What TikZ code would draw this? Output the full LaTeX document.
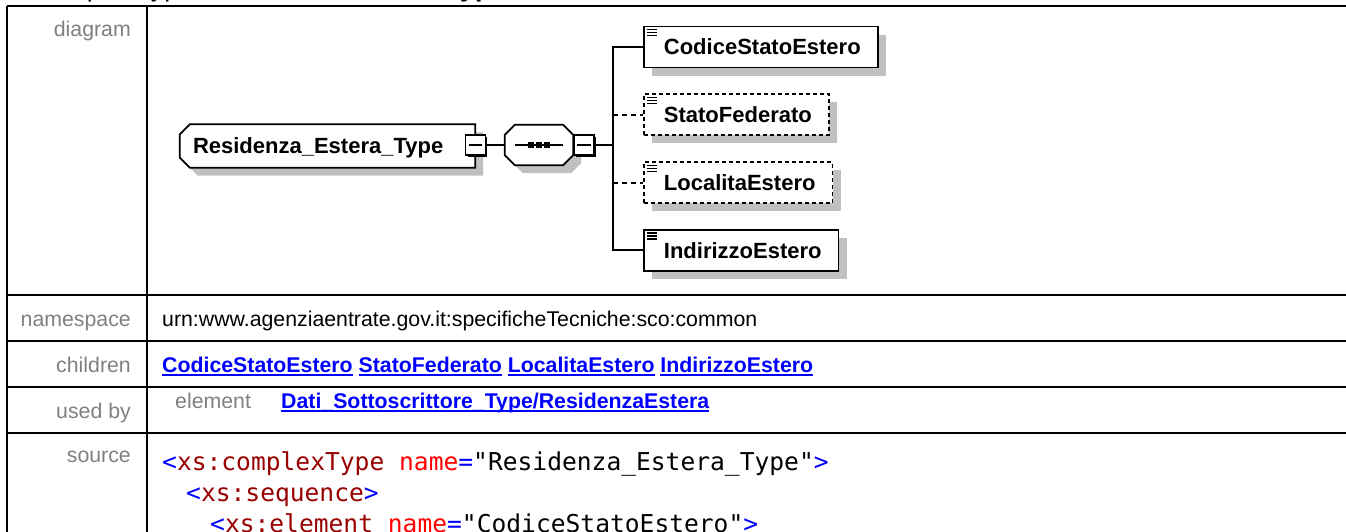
\documentclass[tikz,border=0pt]{standalone}
\usepackage{fontspec}
\setmainfont{Liberation Sans}
\setmonofont{DejaVu Sans Mono}
\usepackage{tikz}
\usetikzlibrary{positioning,shadows,backgrounds}
\definecolor{lblgray}{RGB}{128,128,128}
\definecolor{shadowgray}{RGB}{192,192,192}
\definecolor{linkblue}{RGB}{0,0,255}
\definecolor{tagred}{RGB}{153,0,0}
\definecolor{attred}{RGB}{255,0,0}
\newcommand\tabfont{\fontsize{21.3}{25}\selectfont}
\newcommand\diafont{\fontsize{22}{26}\selectfont\bfseries}
\newcommand\srcfont{\fontsize{24.6}{31}\selectfont\ttfamily}
\newcommand\lnkword[1]{\setbox0\hbox{#1}\rlap{\rule[-3.8pt]{\wd0}{1.6pt}}\box0\relax}
\newcommand\xsym[1]{\textcolor{linkblue}{#1}}
\newcommand\xtag[1]{\textcolor{tagred}{#1}}
\newcommand\xatt[1]{\textcolor{attred}{#1}}
\tikzset{
  rule/.style={line width=2pt},
  lbl/.style={anchor=base east,text=lblgray,font=\tabfont,inner sep=0pt},
  cell/.style={anchor=base west,font=\tabfont,inner sep=0pt},
  lnk/.style={cell,text=linkblue,font=\tabfont\bfseries},
  srcline/.style={anchor=base west,font=\srcfont,inner sep=0pt},
  shd/.style={drop shadow={shadow xshift=8pt,shadow yshift=-8pt,opacity=1,fill=shadowgray}},
  outline/.style={line width=1.8pt,fill=white,shd},
  rootbox/.style={font=\diafont,minimum width=295pt,minimum height=43pt,text width=269pt,
                  align=left,inner xsep=0pt,text height=15.8pt,text depth=0pt},
  seqbox/.style={minimum width=68pt,minimum height=40pt,inner sep=0pt},
  elem/.style={draw,line width=1.8pt,fill=white,shd,anchor=west,font=\diafont,
               minimum height=41pt,text height=15.8pt,text depth=0pt,inner xsep=17pt},
  optelem/.style={elem,dash pattern=on 4pt off 3pt},
  minbox/.style={draw,line width=1.4pt,fill=white,minimum size=20pt,inner sep=0pt},
  conn/.style={line width=2pt},
  optconn/.style={conn,dash pattern=on 5pt off 4pt},
}
\begin{document}
\begin{tikzpicture}[x=1pt,y=-1pt]
\useasboundingbox (0,0) rectangle (1346,531);

% heading, cut by the page top
\node[anchor=base west,inner sep=0pt,font=\fontsize{26.8}{30}\selectfont] (title) at (36,-3.5)
  {complexType \textbf{Residenza\_Estera\_Type}};

% table
\draw[rule] (7,6) -- (1350,6);
\draw[rule] (7,6) -- (7,540);
\draw[rule] (147,6) -- (147,540);
\foreach \y in {295,341,387,433}
  \draw[rule] (7,\y) -- (1350,\y);

\node[lbl] (ldiag) at (131,36)  {diagram};
\node[lbl] (lns)   at (131,326) {namespace};
\node[lbl] (lch)   at (131,372) {children};
\node[lbl] (luse)  at (131,418) {used by};
\node[lbl] (lsrc)  at (131,462) {source};

\node[cell] (ns) at (162,326) {urn:www.agenziaentrate.gov.it:specificheTecniche:sco:common};
\node[lnk] (ch) at (162,372)
  {\lnkword{CodiceStatoEstero} \lnkword{StatoFederato} \lnkword{LocalitaEstero} \lnkword{IndirizzoEstero}};
\node[cell,text=lblgray] (uel) at (175,408) {element};
\node[lnk] (uby) at (281,408) {\lnkword{Dati\_Sottoscrittore\_Type/ResidenzaEstera}};

\node[srcline] (src1) at (162,470)
  {\xsym{<}\xtag{xs:complexType} \xatt{name}\xsym{=}"Residenza\_Estera\_Type"\xsym{>}};
\node[srcline] (src2) at (186,501) {\xsym{<}\xtag{xs:sequence}\xsym{>}};
\node[srcline] (src3) at (210,532)
  {\xsym{<}\xtag{xs:element} \xatt{name}\xsym{=}"CodiceStatoEstero"\xsym{>}};

% diagram
\node[rootbox] (root) at (327.5,146) {Residenza\_Estera\_Type};
\node[seqbox] (seq) at (539,145) {};
\begin{scope}[on background layer]
  \draw[outline] ([xshift=10pt]root.north west) -- (root.north east) -- (root.south east)
    -- ([xshift=10pt]root.south west) -- ([yshift=10pt]root.south west)
    -- ([yshift=-10pt]root.north west) -- cycle;
  \draw[outline] ([xshift=10pt]seq.north west) -- ([xshift=-10pt]seq.north east)
    -- ([yshift=-10pt]seq.north east) -- ([yshift=10pt]seq.south east)
    -- ([xshift=-10pt]seq.south east) -- ([xshift=10pt]seq.south west)
    -- ([yshift=10pt]seq.south west) -- ([yshift=-10pt]seq.north west) -- cycle;
\end{scope}
\node[minbox] (rmin) at (root.east |- 0,145) {};
\node[minbox,right=0pt of seq] (smin) {};
\draw[conn] ([xshift=-24pt]seq.center) -- ([xshift=24pt]seq.center);
\foreach \dx in {-8,0,8}
  \fill ([xshift=\dx pt]seq.center) +(-2.8pt,-2.8pt) rectangle +(2.8pt,2.8pt);
\foreach \m in {rmin,smin}{
  \draw[line width=2.6pt] ([yshift=-3pt]\m.north east) -- (\m.south east) -- ([xshift=3pt]\m.south west);
  \draw[line width=1.4pt] ([xshift=4pt]\m.west) -- ([xshift=-4pt]\m.east);
}

\node[elem] (cse) at (643,47) {\hspace*{3pt}CodiceStatoEstero};
\node[optelem,below=25pt of cse.south west,anchor=north west] (sf) {\hspace*{3pt}StatoFederato};
\node[optelem,below=25pt of sf.south west,anchor=north west] (le) {\hspace*{3pt}LocalitaEstero};
\node[elem,below=25pt of le.south west,anchor=north west] (ie) {\hspace*{3pt}IndirizzoEstero};
\foreach \n in {cse,sf,le,ie}
  \foreach \dy in {4,7,10}
    \draw[line width=1.2pt] ([xshift=4pt,yshift=-\dy pt]\n.north west) -- ++(10pt,0);

\coordinate (bus) at (613,145);
\draw[conn] (rmin.east) -- (seq.west);
\draw[conn] (smin.east) -- (bus);
\draw[conn,line cap=rect] (bus |- cse.west) -- (bus |- ie.west);
\foreach \c/\s in {cse/conn,sf/optconn,le/optconn,ie/conn}
  \draw[\s] (bus |- \c.west) -- (\c.west);
\end{tikzpicture}
\end{document}
